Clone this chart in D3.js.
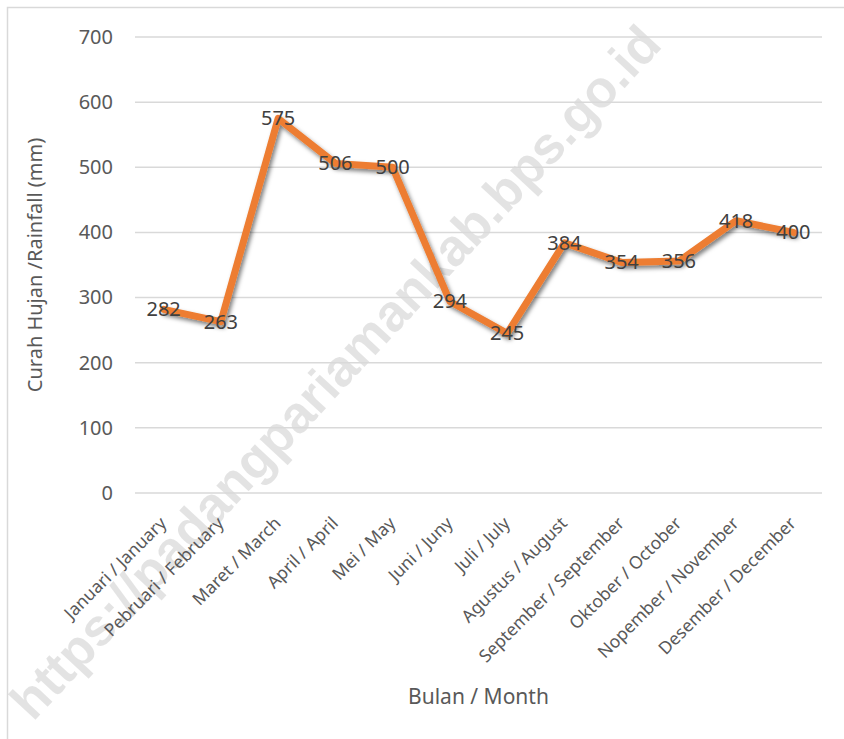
<!DOCTYPE html>
<html>
<head>
<meta charset="utf-8">
<script src="https://cdn.jsdelivr.net/npm/d3@7"></script>
<style>
  body { margin: 0; background: #fff; }
  svg { display: block; font-family: "Noto Sans", "Open Sans", sans-serif; }
</style>
</head>
<body>
<div id="container"></div>
<script>
// data
var months = ["Januari / January", "Pebruari / February", "Maret / March", "April / April",
  "Mei / May", "Juni / Juny", "Juli / July", "Agustus / August", "September / September",
  "Oktober / October", "Nopember / November", "Desember / December"];
var rainfall = [282, 263, 575, 506, 500, 294, 245, 384, 354, 356, 418, 400];
var yTicks = [0, 100, 200, 300, 400, 500, 600, 700];

var width = 844, height = 739;
var margin = {top: 37, right: 22, bottom: 246, left: 135};

var svg = d3.select("div#container")
  .append("svg")
  .attr("width", width)
  .attr("height", height);

// drop shadow like the spreadsheet default
var defs = svg.append("defs");
var shadow = defs.append("filter")
  .attr("id", "shadow")
  .attr("x", "-10%").attr("y", "-10%")
  .attr("width", "120%").attr("height", "120%");
shadow.append("feDropShadow")
  .attr("dx", 2).attr("dy", 3)
  .attr("stdDeviation", 2.2)
  .attr("flood-color", "#000")
  .attr("flood-opacity", 0.5);

// chart border
svg.append("rect")
  .attr("x", 7.5).attr("y", 7.5)
  .attr("width", width + 10).attr("height", height + 10)
  .attr("fill", "none")
  .attr("stroke", "#d9d9d9")
  .attr("stroke-width", 1.5);

var x = d3.scalePoint()
  .domain(months)
  .range([margin.left, width - margin.right])
  .padding(0.5);

var y = d3.scaleLinear()
  .domain([0, 700])
  .range([height - margin.bottom, margin.top]);

// watermark (behind the chart marks)
svg.append("text")
  .attr("transform", "translate(335,372) rotate(-47)")
  .attr("text-anchor", "middle")
  .attr("dy", "0.35em")
  .attr("fill", "#000")
  .attr("fill-opacity", 0.11)
  .style("font-size", "52px")
  .style("font-weight", "bold")
  .style("font-family", "'Liberation Sans', sans-serif")
  .text("https://padangpariamankab.bps.go.id");

// gridlines
svg.append("g")
  .selectAll("line")
  .data(yTicks)
  .enter().append("line")
  .attr("x1", margin.left)
  .attr("x2", width - margin.right)
  .attr("y1", function(d) { return y(d); })
  .attr("y2", function(d) { return y(d); })
  .attr("stroke", "#d9d9d9")
  .attr("stroke-width", 1.5);

// y axis labels
var yAxis = svg.append("g")
  .attr("transform", "translate(" + (margin.left - 22) + ",0)")
  .call(d3.axisLeft(y).tickValues(yTicks).tickSize(0).tickPadding(0));
yAxis.select(".domain").remove();
yAxis.selectAll("text")
  .attr("fill", "#595959")
  .style("font-size", "20px")
  .style("font-family", "'Noto Sans', sans-serif");

// x axis labels, rotated
var xAxis = svg.append("g")
  .attr("transform", "translate(0," + y(0) + ")")
  .call(d3.axisBottom(x).tickSize(0).tickPadding(0));
xAxis.select(".domain").remove();
xAxis.selectAll("text")
  .attr("fill", "#595959")
  .style("font-size", "17.5px")
  .style("font-family", "'Noto Sans', sans-serif")
  .attr("text-anchor", "end")
  .attr("dy", "0.35em")
  .attr("transform", "translate(-1,27) rotate(-45)");

// axis titles
svg.append("text")
  .attr("x", (margin.left + width - margin.right) / 2)
  .attr("y", 704)
  .attr("text-anchor", "middle")
  .attr("fill", "#595959")
  .style("font-size", "21px")
  .text("Bulan / Month");

svg.append("text")
  .attr("transform", "translate(42," + (y(0) + y(700)) / 2 + ") rotate(-90)")
  .attr("text-anchor", "middle")
  .attr("fill", "#595959")
  .style("font-size", "20px")
  .text("Curah Hujan /Rainfall (mm)");

// the line
var line = d3.line()
  .x(function(d, i) { return x(months[i]); })
  .y(function(d) { return y(d); });

svg.append("path")
  .datum(rainfall)
  .attr("d", line)
  .attr("fill", "none")
  .attr("stroke", "#ed7d31")
  .attr("stroke-width", 7)
  .attr("stroke-linejoin", "round")
  .attr("stroke-linecap", "round")
  .attr("filter", "url(#shadow)");

// data labels centred on the points
svg.append("g")
  .selectAll("text")
  .data(rainfall)
  .enter().append("text")
  .attr("x", function(d, i) { return x(months[i]); })
  .attr("y", function(d) { return y(d); })
  .attr("dy", "0.35em")
  .attr("text-anchor", "middle")
  .attr("fill", "#404040")
  .style("font-size", "20px")
  .text(function(d) { return d; });
</script>
</body>
</html>
